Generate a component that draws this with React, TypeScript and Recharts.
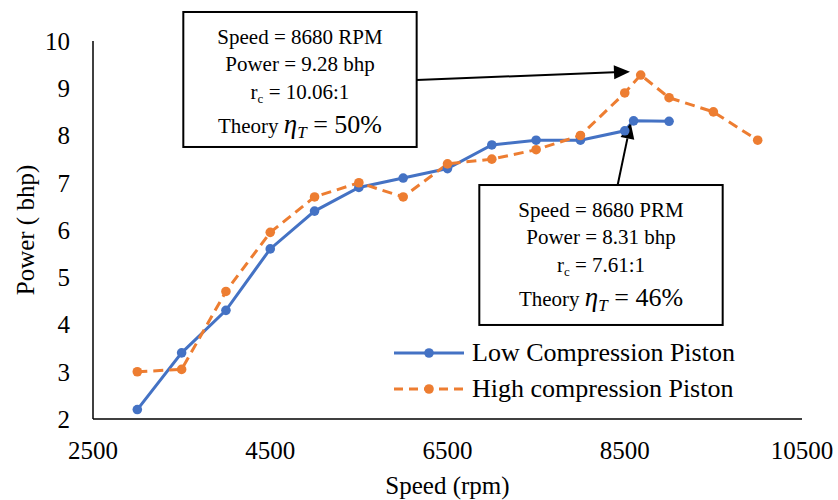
import { LineChart, Line, XAxis, YAxis, Legend, ReferenceArea, ReferenceLine } from "recharts"

// speed (rpm) / power (bhp)
const lowSpeed = [3000, 3500, 4000, 4500, 5000, 5500, 6000, 6500, 7000, 7500, 8000, 8500, 8600, 9000]
const lowPower = [2.2, 3.4, 4.3, 5.6, 6.4, 6.9, 7.1, 7.3, 7.8, 7.9, 7.9, 8.1, 8.31, 8.3]

const highSpeed = [3000, 3500, 4000, 4500, 5000, 5500, 6000, 6500, 7000, 7500, 8000, 8500, 8680, 9000, 9500, 10000]
const highPower = [3.0, 3.05, 4.7, 5.95, 6.7, 7.0, 6.7, 7.4, 7.5, 7.7, 8.0, 8.9, 9.28, 8.8, 8.5, 7.9]

const xTicks = [2500, 4500, 6500, 8500, 10500]
const yTicks = [2, 3, 4, 5, 6, 7, 8, 9, 10]

const seriesNames = ["Low Compression Piston", "High compression Piston"]

// annotation boxes, in data units
const highNote = { lines: ["Speed = 8680 RPM", "Power = 9.28 bhp"], rc: "10.06:1", eta: "50%" }
const lowNote = { lines: ["Speed = 8680 PRM", "Power = 8.31 bhp"], rc: "7.61:1", eta: "46%" }
const highBox = { x1: 3519, x2: 6152, y1: 7.757, y2: 10.614 }
const lowBox = { x1: 6859, x2: 9605, y1: 3.99, y2: 6.952 }
const highArrow = [{ x: 6152, y: 9.175 }, { x: 8559, y: 9.35 }]
const lowArrow = [{ x: 8420, y: 6.952 }, { x: 8567, y: 8.271 }]

const BLUE = "#4472C4"
const ORANGE = "#ED7D31"
const serif = '"Liberation Serif", "Times New Roman", serif'

const lowData = lowSpeed.map((speed, i) => ({ speed, power: lowPower[i] }))
const highData = highSpeed.map((speed, i) => ({ speed, power: highPower[i] }))

function noteShape(note: { lines: string[]; rc: string; eta: string }) {
  return (props: any) => {
    const { x, y, width, height } = props
    const cx = x + width / 2
    return (
      <g>
        <rect x={x} y={y} width={width} height={height} fill="#fff" stroke="#000" strokeWidth={2} />
        <g fontFamily={serif} fill="#000" textAnchor="middle">
          <text x={cx} y={y + 32} fontSize={21}>{note.lines[0]}</text>
          <text x={cx} y={y + 59} fontSize={21}>{note.lines[1]}</text>
          <text x={cx} y={y + 87} fontSize={21}>
            r<tspan fontSize={13} dy={4}>c</tspan>
            <tspan dy={-4}>{" = " + note.rc}</tspan>
          </text>
          <text x={cx} y={y + 121} fontSize={21}>
            {"Theory "}
            <tspan fontSize={27} fontStyle="italic">η</tspan>
            <tspan fontSize={17} fontStyle="italic" dy={5}>T</tspan>
            <tspan fontSize={26} dy={-5}>{" = " + note.eta}</tspan>
          </text>
        </g>
      </g>
    )
  }
}

function Arrow(props: any) {
  const { x1, y1, x2, y2 } = props
  const len = Math.hypot(x2 - x1, y2 - y1)
  const ux = (x2 - x1) / len
  const uy = (y2 - y1) / len
  const head = 16
  const half = 7
  const bx = x2 - ux * head
  const by = y2 - uy * head
  const pts = `${x2},${y2} ${bx - uy * half},${by + ux * half} ${bx + uy * half},${by - ux * half}`
  return (
    <g>
      <line x1={x1} y1={y1} x2={bx} y2={by} stroke="#000" strokeWidth={2} />
      <polygon points={pts} fill="#000" />
    </g>
  )
}

function YTitle(props: any) {
  const { viewBox } = props
  const x = viewBox.x + 25
  const y = viewBox.y + viewBox.height / 2
  return (
    <text x={x} y={y} transform={`rotate(-90, ${x}, ${y})`} textAnchor="middle" dominantBaseline="central"
      fontSize={25} fontFamily={serif} fill="#000">
      Power ( bhp)
    </text>
  )
}

function LegendBox() {
  const rows = [
    { name: seriesNames[0], color: BLUE, dash: undefined },
    { name: seriesNames[1], color: ORANGE, dash: "9 6" },
  ]
  return (
    <div style={{ fontFamily: serif, fontSize: 26, color: "#000" }}>
      {rows.map((r) => (
        <div key={r.name} style={{ display: "flex", alignItems: "center", height: 36, lineHeight: "36px", whiteSpace: "nowrap" }}>
          <svg width={74} height={36}>
            <line x1={2} y1={18} x2={72} y2={18} stroke={r.color} strokeWidth={3} strokeDasharray={r.dash} />
            <circle cx={37} cy={18} r={4.8} fill={r.color} />
          </svg>
          <span style={{ marginLeft: 6 }}>{r.name}</span>
        </div>
      ))}
    </div>
  )
}

export default function App() {
  return (
    <div style={{ position: "absolute", left: 0, top: 0, background: "#fff" }}>
      <LineChart width={838} height={500} margin={{ top: 41, right: 36, bottom: 0, left: 0 }}>
        <XAxis
          type="number"
          dataKey="speed"
          domain={[2500, 10500]}
          ticks={xTicks}
          allowDataOverflow
          height={81}
          tickSize={0}
          tickMargin={22}
          tickLine={false}
          axisLine={{ stroke: "#000", strokeWidth: 1.5 }}
          tick={{ fill: "#000", fontSize: 25, fontFamily: serif }}
          label={{ value: "Speed (rpm)", position: "insideBottom", offset: 6, fill: "#000", fontSize: 25, fontFamily: serif }}
        />
        <YAxis
          type="number"
          domain={[2, 10]}
          ticks={yTicks}
          allowDataOverflow
          width={93}
          tickSize={0}
          tickMargin={23}
          tickLine={false}
          axisLine={{ stroke: "#000", strokeWidth: 1.5 }}
          tick={{ fill: "#000", fontSize: 25, fontFamily: serif }}
          label={YTitle}
        />
        <ReferenceArea {...highBox} ifOverflow="visible" shape={noteShape(highNote)} />
        <ReferenceArea {...lowBox} ifOverflow="visible" shape={noteShape(lowNote)} />
        <Line
          data={lowData}
          dataKey="power"
          name={seriesNames[0]}
          stroke={BLUE}
          strokeWidth={3}
          dot={{ r: 4.8, fill: BLUE, stroke: "none" }}
          isAnimationActive={false}
        />
        <Line
          data={highData}
          dataKey="power"
          name={seriesNames[1]}
          stroke={ORANGE}
          strokeWidth={3}
          strokeDasharray="10 6"
          dot={{ r: 4.8, fill: ORANGE, stroke: "none", strokeDasharray: "0" }}
          isAnimationActive={false}
        />
        <ReferenceLine segment={highArrow} ifOverflow="visible" shape={Arrow} />
        <ReferenceLine segment={lowArrow} ifOverflow="visible" shape={Arrow} />
        <Legend
          layout="vertical"
          align="center"
          verticalAlign="middle"
          content={LegendBox}
          wrapperStyle={{ left: 392, top: 335, width: 380 }}
        />
      </LineChart>
    </div>
  )
}
